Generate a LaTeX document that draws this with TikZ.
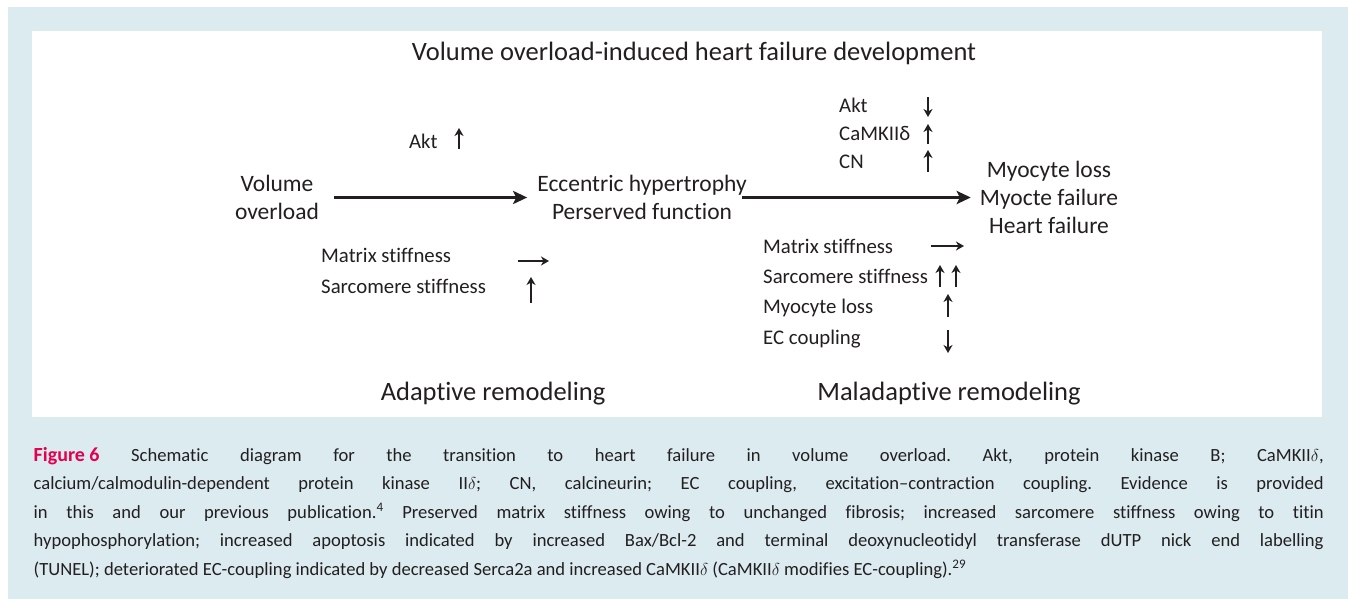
\documentclass[tikz,border=0pt]{standalone}
\usepackage{fontspec}
\setmainfont{Carlito}[Ligatures={TeX,NoCommon}]
\usetikzlibrary{arrows.meta}
\definecolor{capbg}{RGB}{219,235,240}
\definecolor{figred}{RGB}{228,0,76}
\definecolor{ink}{RGB}{35,31,32}
\begin{document}
\begin{tikzpicture}[x=1pt,y=-1pt,
  bigtxt/.style={font=\fontsize{23.5}{28}\selectfont, inner sep=0pt, text=ink, align=center},
  headtxt/.style={font=\fontsize{26.5}{30}\selectfont, inner sep=0pt, text=ink, anchor=base},
  smalltxt/.style={font=\fontsize{20.8}{24}\selectfont, inner sep=0pt, text=ink, anchor=base west},
  mainarrow/.style={draw=ink, line width=3.2pt, -{Stealth[length=14pt,width=13pt,inset=3pt]}},
  tinyarrow/.style={draw=ink, line width=1.8pt, -{Stealth[length=8pt,width=9pt,inset=2.5pt]}},
  captxt/.style={font=\fontsize{18.6}{28.5}\selectfont, inner sep=0pt, text=ink, text width=1290pt, align=justify, anchor=north west}
]
\useasboundingbox (0,0) rectangle (1348,599);
\fill[capbg] (8,7) rectangle (1348,599);
\fill[white] (32,31) rectangle (1322,417);

% title
\node[headtxt] (title) at (694,61) {Volume overload-induced heart failure development};

% main chain
\node[bigtxt, anchor=center] (vo) at (277,197.5) {Volume\\overload};
\node[bigtxt, anchor=center] (ecc) at (642,197.5) {Eccentric hypertrophy\\Perserved function};
\node[bigtxt, anchor=center] (mf) at (1049,197) {Myocyte loss\\Myocte failure\\Heart failure};

\draw[mainarrow] ([xshift=15pt]vo.east) -- ([xshift=-10pt]vo.east -| ecc.west);
\draw[mainarrow] ([xshift=-5pt]ecc.east) -- ([xshift=-9pt]ecc.east -| mf.west);

% adaptive markers
\node[smalltxt] (akt1) at (409,148) {Akt};
\coordinate (akt1a) at (459,149);
\coordinate (akt1b) at (459,128);
\draw[tinyarrow] (akt1a) -- (akt1b);

\node[smalltxt] (matL) at (321,262) {Matrix stiffness};
\coordinate (matLa) at (518,261);
\coordinate (matLb) at (549,261);
\draw[tinyarrow] (matLa) -- (matLb);

\node[smalltxt] (sarL) at (321,293) {Sarcomere stiffness};
\coordinate (sarLa) at (531,303);
\coordinate (sarLb) at (531,277);
\draw[tinyarrow] (sarLa) -- (sarLb);

% maladaptive markers (top)
\node[smalltxt] (aktR) at (839,113) {Akt};
\coordinate (aktRa) at (928,97);
\coordinate (aktRb) at (928,117);
\draw[tinyarrow] (aktRa) -- (aktRb);

\node[smalltxt] (camk) at (839,140) {CaMKIIδ};
\coordinate (camka) at (928,144);
\coordinate (camkb) at (928,124);
\draw[tinyarrow] (camka) -- (camkb);

\node[smalltxt] (cn) at (839,168) {CN};
\coordinate (cna) at (928,172);
\coordinate (cnb) at (928,150);
\draw[tinyarrow] (cna) -- (cnb);

% maladaptive markers (bottom)
\node[smalltxt] (matR) at (763,253) {Matrix stiffness};
\coordinate (matRa) at (931,246);
\coordinate (matRb) at (964,246);
\draw[tinyarrow] (matRa) -- (matRb);

\node[smalltxt] (sarR) at (763,283) {Sarcomere stiffness};
\coordinate (sarRa) at (940,287);
\coordinate (sarRb) at (940,265);
\coordinate (sarRc) at (956,287);
\coordinate (sarRd) at (956,265);
\draw[tinyarrow] (sarRa) -- (sarRb);
\draw[tinyarrow] (sarRc) -- (sarRd);

\node[smalltxt] (myoR) at (763,313) {Myocyte loss};
\coordinate (myoRa) at (948,317);
\coordinate (myoRb) at (948,294);
\draw[tinyarrow] (myoRa) -- (myoRb);

\node[smalltxt] (ecR) at (763,344) {EC coupling};
\coordinate (ecRa) at (948,330);
\coordinate (ecRb) at (948,353);
\draw[tinyarrow] (ecRa) -- (ecRb);

% phase labels
\node[headtxt] (adap) at (493,400) {Adaptive remodeling};
\node[headtxt] (malad) at (949,400) {Maladaptive remodeling};

% caption
\node[captxt] (cap) at (33.5,447) {\frenchspacing\hyphenpenalty=10000\exhyphenpenalty=10000\emergencystretch=3em
{\color{figred}\bfseries\fontsize{20}{28.5}\selectfont \mbox{Figure 6}} Schematic diagram for the transition to heart failure in volume overload. Akt, protein kinase B; CaMKII$\delta$,\linebreak
calcium/calmodulin-dependent protein kinase II$\delta$; CN, calcineurin; EC coupling, excitation--contraction coupling. Evidence is provided\linebreak
in this and our previous publication.\textsuperscript{4} Preserved matrix stiffness owing to unchanged fibrosis; increased sarcomere stiffness owing to titin\linebreak
hypophosphorylation; increased apoptosis indicated by increased Bax/Bcl-2 and terminal deoxynucleotidyl transferase dUTP nick end labelling\linebreak
(TUNEL); deteriorated EC-coupling indicated by decreased Serca2a and increased CaMKII$\delta$ (CaMKII$\delta$ modifies EC-coupling).\textsuperscript{29}\par};
\end{tikzpicture}
\end{document}
